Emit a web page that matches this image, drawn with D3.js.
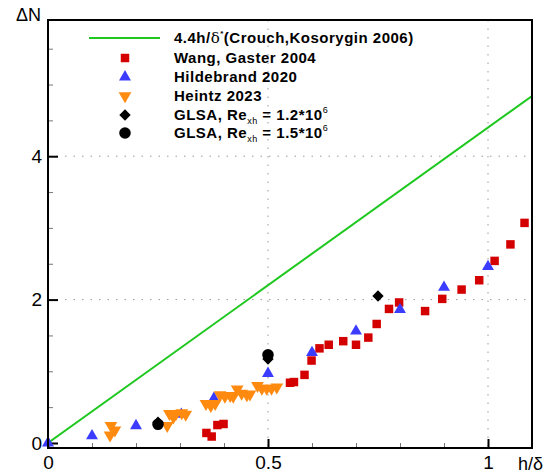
<!DOCTYPE html>
<html><head><meta charset="utf-8">
<script src="https://cdn.jsdelivr.net/npm/d3@7"></script>
<style>body{margin:0;background:#fff}svg{display:block}text{font-family:"Liberation Sans",Arial,sans-serif}</style>
</head><body><svg id="c" width="548" height="475"></svg>
<script>
const wangX=[0.36,0.372,0.385,0.399,0.55,0.559,0.583,0.599,0.617,0.638,0.671,0.70,0.728,0.747,0.775,0.798,0.857,0.896,0.94,0.98,1.015,1.051,1.083];
const wangY=[0.14,0.09,0.25,0.265,0.84,0.85,0.95,1.15,1.32,1.37,1.42,1.37,1.47,1.66,1.87,1.96,1.84,2.01,2.14,2.27,2.54,2.77,3.07];
const hildX=[0,0.1,0.2,0.303,0.377,0.5,0.6,0.7,0.8,0.9,1.0];
const hildY=[0,0.1,0.24,0.40,0.62,0.97,1.26,1.56,1.86,2.17,2.46];
const heinX=[0.141,0.152,0.143,0.271,0.276,0.285,0.291,0.304,0.313,0.359,0.37,0.38,0.391,0.402,0.414,0.421,0.43,0.44,0.452,0.459,0.476,0.486,0.497,0.508,0.52];
const heinY=[0.11,0.18,0.24,0.24,0.41,0.36,0.41,0.42,0.40,0.55,0.52,0.55,0.67,0.65,0.66,0.65,0.75,0.69,0.67,0.68,0.80,0.76,0.76,0.76,0.78];
const glsa12X=[0.25,0.5,0.75], glsa12Y=[0.29,1.17,2.05];
const glsa15X=[0.25,0.5], glsa15Y=[0.26,1.23];
const crouchSlope=4.4;
const xTicks=[0,0.5,1], yTicks=[0,2,4];

const svg=d3.select("#c");
const x=d3.scaleLinear().domain([0,1.1]).range([48,532]);
const y=d3.scaleLinear().domain([-0.07,5.9]).range([448,20]);
const L=48,R=532,T=20,B=448;

// grid
const g=svg.append("g");
[0.5,1].forEach(v=>g.append("line").attr("x1",x(v)).attr("x2",x(v)).attr("y1",T).attr("y2",B)
  .attr("stroke","#999").attr("stroke-width",1).attr("stroke-dasharray","1.5,7"));
[2,4].forEach(v=>g.append("line").attr("y1",y(v)).attr("y2",y(v)).attr("x1",L).attr("x2",R)
  .attr("stroke","#999").attr("stroke-width",1).attr("stroke-dasharray","1.5,7"));

// minor ticks
const xMinor=d3.range(0,1.1001,0.1).map(v=>+v.toFixed(2)).filter(v=>!xTicks.includes(v));
const yMinor=d3.range(0,5.9,0.5).filter(v=>!yTicks.includes(v));
const ax=svg.append("g");
ax.append("g").attr("transform",`translate(0,${B})`).call(d3.axisBottom(x).tickValues(xMinor).tickSize(-5).tickFormat(""))
  .call(s=>{s.select(".domain").remove();s.selectAll("line").attr("stroke","#777");});
ax.append("g").attr("transform",`translate(${L},0)`).call(d3.axisLeft(y).tickValues(yMinor).tickSize(-5).tickFormat(""))
  .call(s=>{s.select(".domain").remove();s.selectAll("line").attr("stroke","#777");});
ax.append("g").attr("transform",`translate(0,${B})`).call(d3.axisBottom(x).tickValues(xTicks).tickSize(-9).tickPadding(8).tickFormat(d=>d))
  .call(s=>{s.select(".domain").remove();s.selectAll("line").attr("stroke","#000").attr("stroke-width",2);
    s.selectAll("text").attr("font-size",19).attr("fill","#000").attr("font-family","Liberation Sans, Arial");});
ax.append("g").attr("transform",`translate(${L},0)`).call(d3.axisLeft(y).tickValues(yTicks).tickSize(-10).tickPadding(6).tickFormat(d=>d))
  .call(s=>{s.select(".domain").remove();s.selectAll("line").attr("stroke","#000").attr("stroke-width",2);
    s.selectAll("text").attr("font-size",19).attr("fill","#000").attr("font-family","Liberation Sans, Arial");});

// clip
svg.append("clipPath").attr("id","clip").append("rect").attr("x",L).attr("y",T).attr("width",R-L).attr("height",B-T);

// Crouch line
const lineData=[0,1.1].map(v=>[v,crouchSlope*v]);
svg.append("path").attr("clip-path","url(#clip)").attr("d",d3.line().x(d=>x(d[0])).y(d=>y(d[1]))(lineData))
  .attr("stroke","#1ec81e").attr("stroke-width",2).attr("fill","none");

const sym=(type,size)=>d3.symbol().type(type).size(size)();
function plot(xs,ys,type,size,color,rot){
  svg.append("g").selectAll("path").data(xs.map((v,i)=>[v,ys[i]])).join("path")
    .attr("transform",d=>`translate(${x(d[0])},${y(d[1])})${rot?` rotate(${rot})`:""}`)
    .attr("d",sym(type,size)).attr("fill",color);
}
plot(wangX,wangY,d3.symbolSquare,72,"#d40000");
plot(hildX,hildY,d3.symbolTriangle,62,"#3c3cff");
plot(heinX,heinY,d3.symbolTriangle,70,"#ff8a10",180);
plot(glsa12X,glsa12Y,d3.symbolSquare,64,"#000",45);
plot(glsa15X,glsa15Y,d3.symbolCircle,105,"#000");

// frame
svg.append("rect").attr("x",L).attr("y",T).attr("width",R-L).attr("height",B-T).attr("fill","none").attr("stroke","#000").attr("stroke-width",2);

// axis titles
svg.append("text").attr("x",16).attr("y",21).attr("font-size",18).text("ΔN");
svg.append("text").attr("x",518).attr("y",470).attr("font-size",18).text("h/δ");

// legend
const lg=svg.append("g").attr("font-size",15).attr("font-weight","bold").attr("letter-spacing",0.5);
const rowsY=[38,58,77,96,115,133];
lg.append("line").attr("x1",89).attr("x2",160).attr("y1",rowsY[0]).attr("y2",rowsY[0]).attr("stroke","#1ec81e").attr("stroke-width",2);
const t0=lg.append("text").attr("x",174).attr("y",rowsY[0]+5);
t0.append("tspan").text("4.4h/");
t0.append("tspan").attr("font-weight","normal").attr("font-family","DejaVu Serif").text("δ");
t0.append("tspan").attr("font-size",8).attr("dy",-7).text("*");
t0.append("tspan").attr("dy",7).text("(Crouch,Kosorygin 2006)");
const mk=[[d3.symbolSquare,72,"#d40000",0,"Wang, Gaster 2004"],[d3.symbolTriangle,62,"#3c3cff",0,"Hildebrand 2020"],
 [d3.symbolTriangle,70,"#ff8a10",180,"Heintz 2023"]];
mk.forEach((m,i)=>{
  const yy=rowsY[i+1];
  lg.append("path").attr("transform",`translate(125,${yy})${m[3]?" rotate(180)":""}`).attr("d",sym(m[0],m[1])).attr("fill",m[2]);
  lg.append("text").attr("x",174).attr("y",yy+5).text(m[4]);
});
[[d3.symbolSquare,64,"1.2",45],[d3.symbolCircle,105,"1.5",0]].forEach((m,i)=>{
  const yy=rowsY[4+i];
  lg.append("path").attr("transform",`translate(125,${yy}) rotate(${m[3]})`).attr("d",sym(m[0],m[1])).attr("fill","#000");
  const t=lg.append("text").attr("x",174).attr("y",yy+5);
  t.append("tspan").text("GLSA, Re");
  t.append("tspan").attr("font-size",9).attr("font-weight","normal").attr("dy",4).text("xh");
  t.append("tspan").attr("dy",-4).text(` = ${m[2]}*10`);
  t.append("tspan").attr("font-size",9).attr("font-weight","normal").attr("dy",-7).text("6");
});
</script></body></html>
